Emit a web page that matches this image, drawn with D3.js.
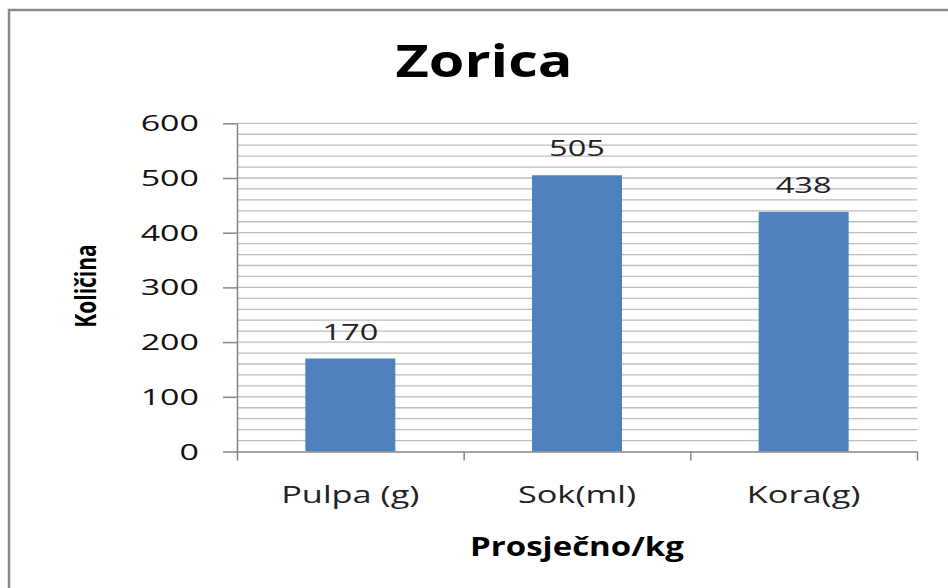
<!DOCTYPE html>
<html>
<head>
<meta charset="utf-8">
<script src="https://cdn.jsdelivr.net/npm/d3@7"></script>
<style>
  body { margin: 0; background: #fff; }
  text { font-family: "Open Sans", sans-serif; fill: #111; }
</style>
</head>
<body>
<div id="chart"></div>
<script>
// data
const categories = ["Pulpa (g)", "Sok(ml)", "Kora(g)"];
const values = [170, 505, 438];
const yTicks = [0, 100, 200, 300, 400, 500, 600];
const gridStep = 20;
const title = "Zorica";
const xTitle = "Prosječno/kg";
const yTitle = "Količina";

const W = 948, H = 588;
const plot = {left: 237, right: 917, top: 123.3, bottom: 451.5};

const svg = d3.select("#chart")
  .append("svg")
    .attr("width", W)
    .attr("height", H);

// outer chart border (runs off the right / bottom edge)
svg.append("rect")
  .attr("x", 9).attr("y", 10)
  .attr("width", 1000).attr("height", 700)
  .attr("fill", "none")
  .attr("stroke", "#8a8a8a")
  .attr("stroke-width", 2.5);

const x = d3.scaleBand()
  .domain(categories)
  .range([plot.left, plot.right])
  .paddingInner(0.603)
  .paddingOuter(0.3015);

const y = d3.scaleLinear()
  .domain([0, 600])
  .range([plot.bottom, plot.top]);

// stretched text helper (the original picture is widened)
function label(g, txt, px, py, opts) {
  const sx = opts.sx || 1, sy = opts.sy || 1, rot = opts.rot || 0;
  return g.append("text")
    .attr("transform", `translate(${px},${py}) rotate(${rot}) scale(${sx},${sy})`)
    .attr("text-anchor", opts.anchor || "middle")
    .style("font-size", opts.size + "px")
    .style("font-weight", opts.bold ? "bold" : "normal")
    .text(txt);
}

// minor gridlines every 20
const gridVals = d3.range(gridStep, 600 + 1, gridStep);
svg.append("g")
  .selectAll("line")
  .data(gridVals)
  .join("line")
    .attr("x1", plot.left)
    .attr("x2", plot.right)
    .attr("y1", d => y(d))
    .attr("y2", d => y(d))
    .attr("stroke", "#bdbdbd")
    .attr("stroke-width", 1.3);

// bars
svg.append("g")
  .selectAll("rect")
  .data(values)
  .join("rect")
    .attr("x", (d, i) => x(categories[i]))
    .attr("width", x.bandwidth())
    .attr("y", d => y(d))
    .attr("height", d => plot.bottom - y(d))
    .attr("fill", "#4f81bd");

// y axis
const yAxis = svg.append("g")
  .attr("transform", `translate(${plot.left},0)`)
  .call(d3.axisLeft(y).tickValues(yTicks).tickSize(14).tickSizeOuter(0));
yAxis.select(".domain").attr("stroke", "#868686").attr("stroke-width", 1.5);
yAxis.selectAll(".tick line").attr("stroke", "#868686").attr("stroke-width", 1.5);
yAxis.selectAll(".tick text")
  .attr("x", null).attr("dy", null)
  .attr("transform", "translate(-38,7.5) scale(1.62,1)")
  .attr("text-anchor", "end")
  .style("font-size", "21px")
  .style("fill", "#111")
  .attr("font-family", null);

// x axis: ticks at the category boundaries
const xb = d3.scaleLinear().domain([0, categories.length]).range([plot.left, plot.right]);
const xAxis = svg.append("g")
  .attr("transform", `translate(0,${plot.bottom})`)
  .call(d3.axisBottom(xb).tickValues(d3.range(0, categories.length + 1)).tickSize(9).tickSizeOuter(0).tickFormat(""));
xAxis.select(".domain").attr("stroke", "#868686").attr("stroke-width", 1.5);
xAxis.selectAll(".tick line").attr("stroke", "#868686").attr("stroke-width", 1.5);

// category labels
const cats = svg.append("g");
categories.forEach(c => {
  label(cats, c, x(c) + x.bandwidth() / 2, 503, {size: 24, sx: 1.43}).style("fill", "#222");
});

// value labels
const vals = svg.append("g");
values.forEach((v, i) => {
  label(vals, v, x(categories[i]) + x.bandwidth() / 2, y(v) - 19, {size: 21, sx: 1.55}).style("fill", "#222");
});

// titles
label(svg, title, 484, 77, {size: 45, sx: 1.28, bold: true}).style("fill", "#000");
label(svg, xTitle, 577, 556, {size: 26, sx: 1.27, bold: true}).style("fill", "#000");
label(svg, yTitle, 96, 286, {size: 21, rot: -90, sy: 1.38, bold: true}).style("fill", "#000");
</script>
</body>
</html>
